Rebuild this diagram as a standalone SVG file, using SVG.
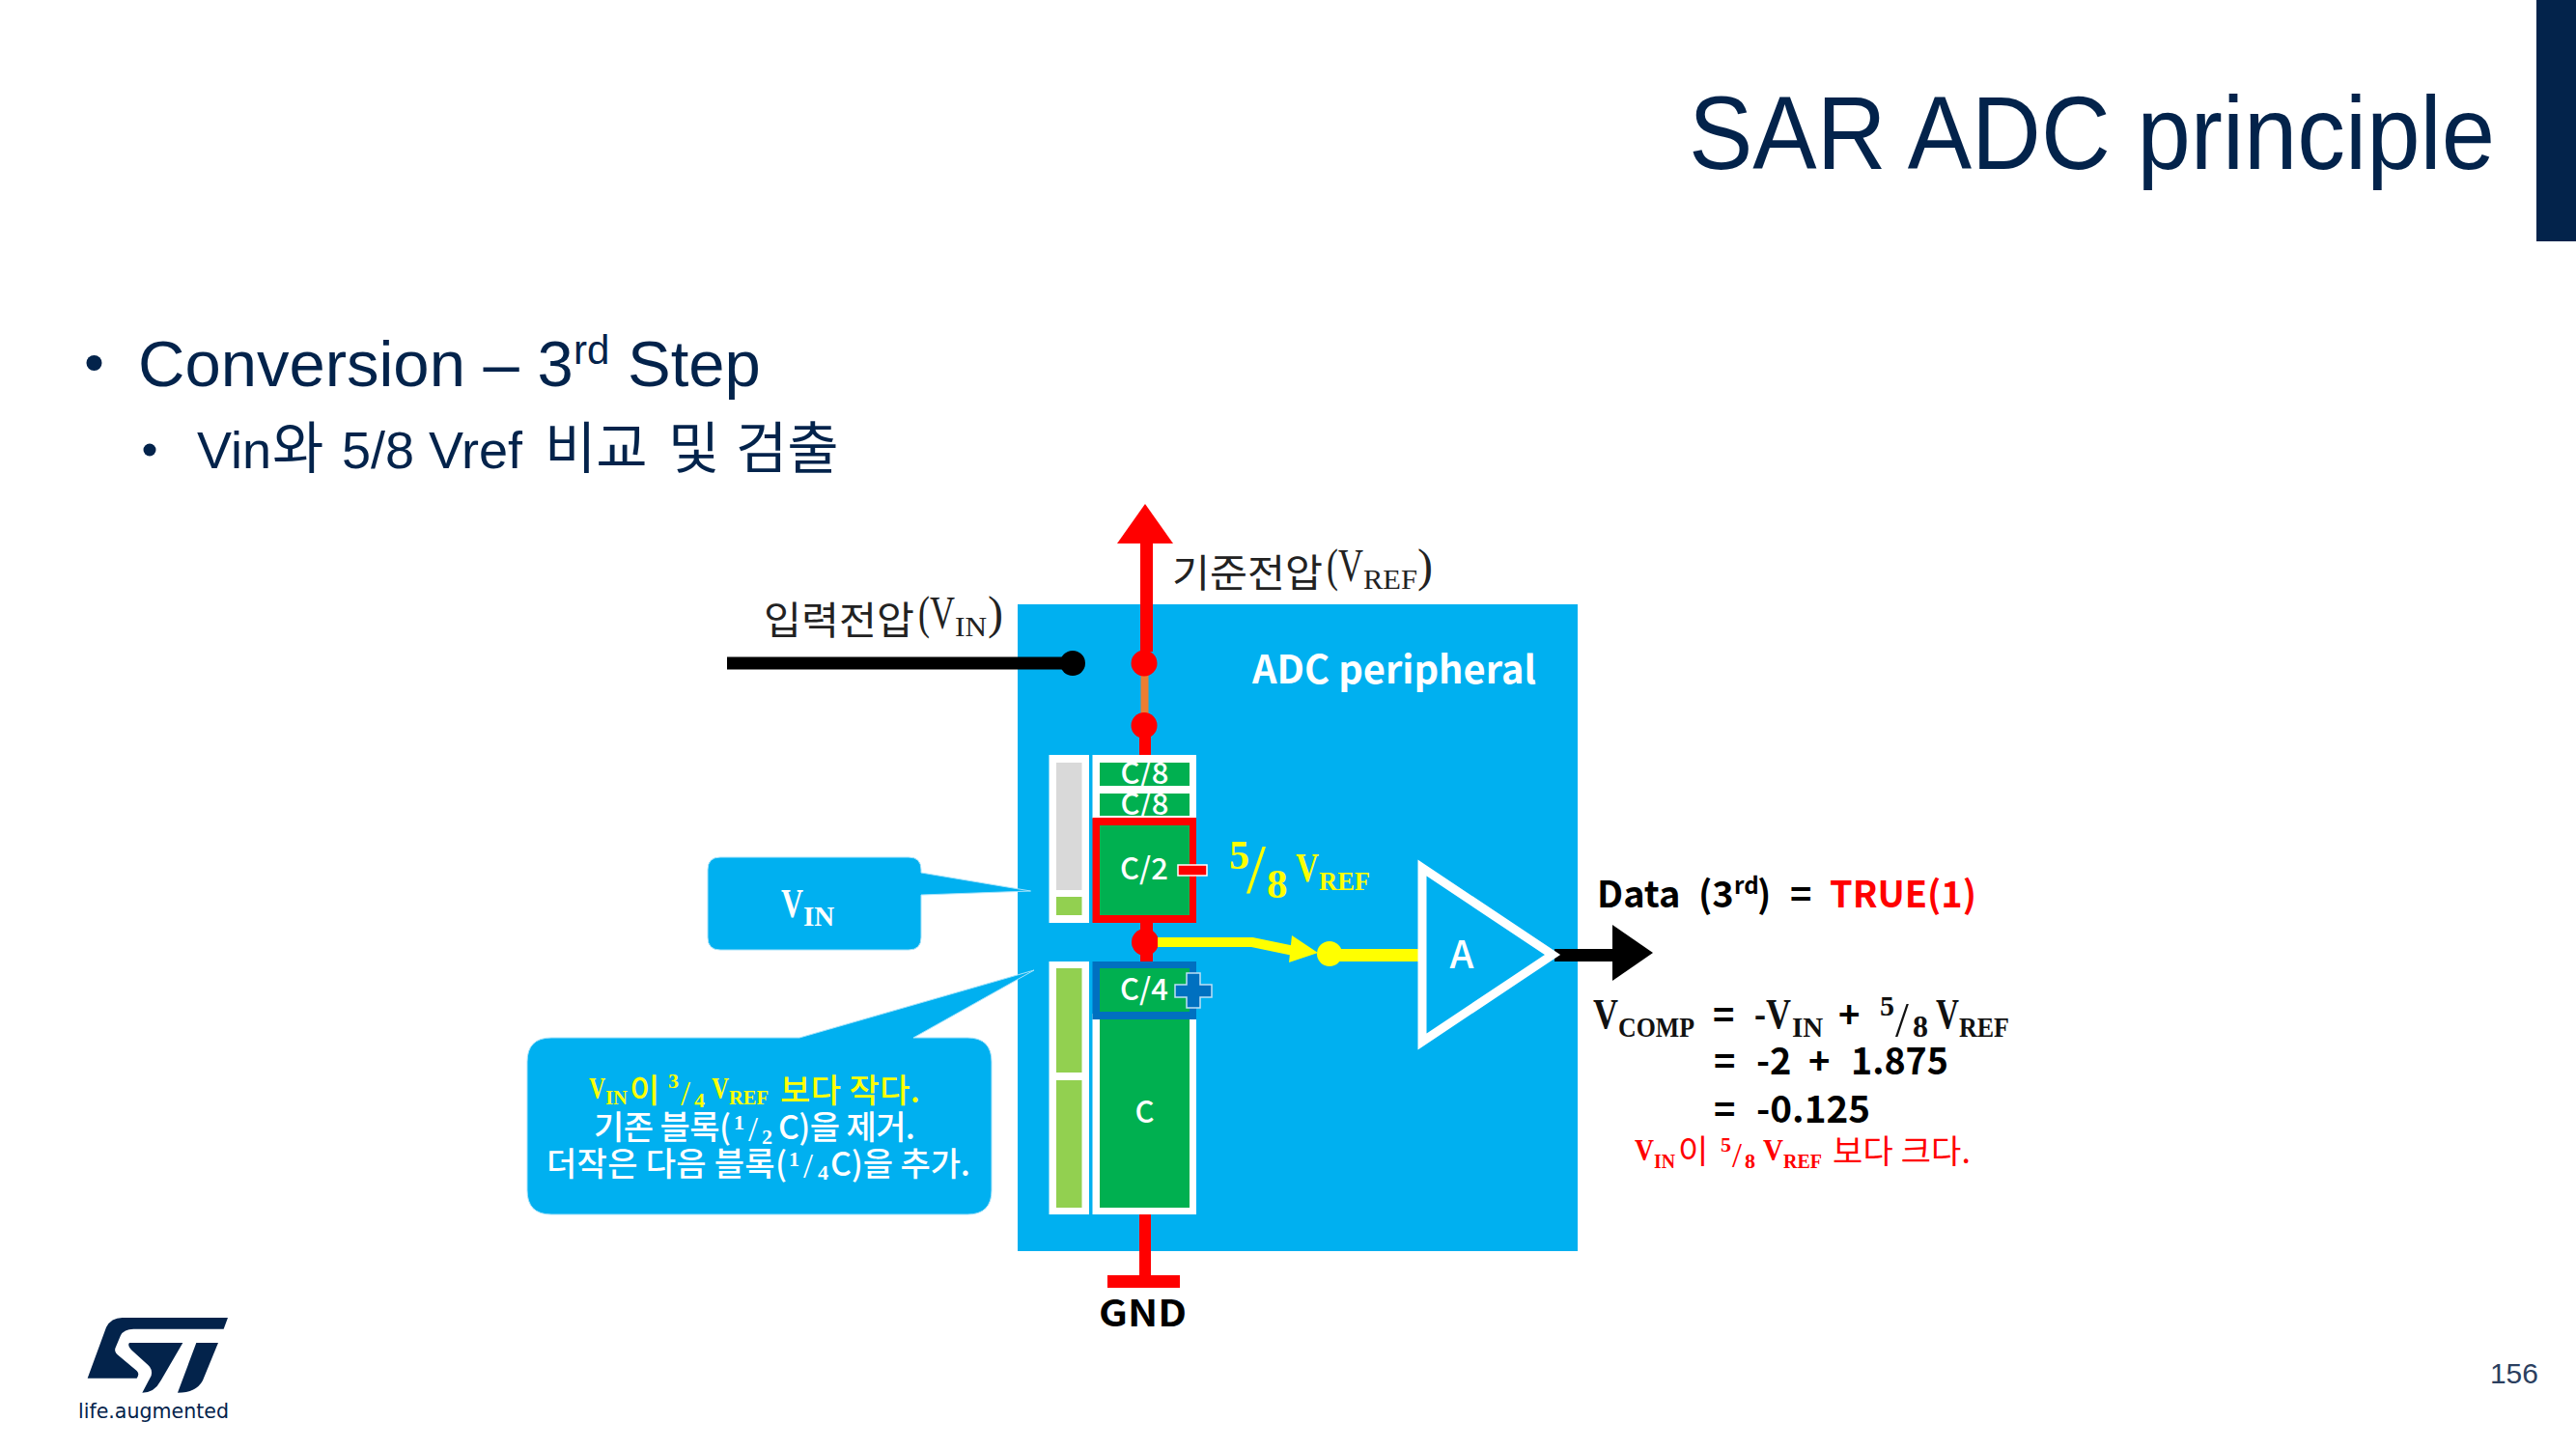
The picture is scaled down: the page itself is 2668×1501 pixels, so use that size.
<svg xmlns="http://www.w3.org/2000/svg" width="2668" height="1501" viewBox="0 0 2668 1501">
<defs><style>
text{font-family:"Liberation Sans","Noto Sans CJK KR",sans-serif;fill:#03234b}
.b{font-family:"Noto Sans CJK KR","Noto Sans",sans-serif;font-weight:700;fill:#000}
.cap{font-family:"Noto Sans CJK KR","Noto Sans",sans-serif;font-weight:500;fill:#fff;font-size:31px;text-anchor:middle}
.s{font-family:"Liberation Serif","Noto Sans CJK KR",serif;font-weight:700}
.t{font-family:"Liberation Serif",serif;font-weight:400;fill:#222}
.h{font-family:"Noto Sans CJK KR",sans-serif;font-weight:400}
.m{font-family:"Noto Sans CJK KR",sans-serif;font-weight:500}
.w{fill:#fff}.y{fill:#ff0}.r{fill:#f00}
.wb{fill:#fff}.dg{fill:#00b050}.lg{fill:#92d050}
.call{fill:#00b0f0;stroke:#a8e3fa;stroke-width:1}
</style></defs>
<rect width="2668" height="1501" fill="#fff"/>
<rect x="2627" y="0" width="41" height="250" fill="#03234b"/>
<text x="1749" y="175" font-size="107" textLength="835" lengthAdjust="spacingAndGlyphs">SAR ADC principle</text>
<g id="bullets">
<circle cx="97.5" cy="376" r="8" fill="#03234b"/>
<text font-size="67"><tspan x="143" y="400">Conversion – 3</tspan><tspan x="594" y="377" font-size="42">rd</tspan><tspan x="650" y="400">Step</tspan></text>
<circle cx="155" cy="466" r="6.5" fill="#03234b"/>
<text font-size="54"><tspan x="204" y="485">Vin</tspan><tspan class="h" x="282" y="485" font-size="58">와</tspan><tspan x="354" y="485">5/8 Vref</tspan><tspan class="h" x="564" y="485" font-size="58">비교</tspan><tspan class="h" x="692" y="485" font-size="58">및</tspan><tspan class="h" x="762" y="485" font-size="58">검출</tspan></text>
</g>
<g id="logo">
<g transform="translate(60 1340) scale(.3333)" fill="#03234b">
<path d="M528 75L515 110H235Q205 110 195 130L178 170Q175 180 185 190L245 240Q255 250 245 263H92L150 105Q165 75 200 75Z"/>
<path d="M222 153H388L320 270Q300 308 262 308L290 255Q295 235 280 222L228 175Q215 160 222 153Z"/>
<path d="M430 153H498L450 270Q430 308 372 308Z"/>
</g>
<text x="81" y="1469" font-size="22" style="font-family:'DejaVu Sans',sans-serif" textLength="156" lengthAdjust="spacingAndGlyphs">life.augmented</text>
</g>
<text id="page" x="2629" y="1433" font-size="30" text-anchor="end" style="fill:#2b3f5f">156</text>

<g id="adc-peripheral">
<rect x="1054" y="626" width="580" height="670" fill="#00b0f0"/>
<text class="cap" x="1444" y="708" style="font-size:40px;font-weight:700" textLength="294" lengthAdjust="spacingAndGlyphs">ADC peripheral</text>
</g>

<g id="connectors">
<rect x="753" y="680.5" width="358" height="13" fill="#000"/>
<circle cx="1111" cy="687" r="13" fill="#000"/>
<rect x="1181" y="560" width="13" height="115" fill="#f00"/>
<polygon points="1186,522 1215,563 1157,563" fill="#f00"/>
<rect x="1181.5" y="698" width="8" height="45" fill="#ed7d31"/>
<rect x="1180" y="750" width="12" height="34" fill="#f00"/>
<circle cx="1185" cy="687" r="13.5" fill="#f00"/>
<circle cx="1185" cy="751.5" r="13.5" fill="#f00"/>
<rect x="1181" y="954" width="13" height="44" fill="#f00"/>
<circle cx="1186" cy="976" r="14" fill="#f00"/>
<path d="M1199 976H1297L1345 986" fill="none" stroke="#ff0" stroke-width="10"/>
<polygon points="1338,969 1365,987 1335,997" fill="#ff0"/>
<circle cx="1377" cy="988" r="13" fill="#ff0"/>
<rect x="1377" y="983" width="92" height="13" fill="#ff0"/>
<rect x="1610" y="983" width="62" height="13" fill="#000"/>
<polygon points="1670,958 1712,987 1670,1016" fill="#000"/>
<rect x="1180" y="1256" width="12" height="66" fill="#f00"/>
<rect x="1147" y="1321" width="75" height="13" fill="#f00"/>
</g>

<g id="left-column-top">
<rect class="wb" x="1086.5" y="782" width="41.5" height="174"/>
<rect x="1094" y="790" width="26.5" height="132" fill="#d9d9d9"/>
<rect class="lg" x="1094" y="929" width="26.5" height="19"/>
</g>
<g id="left-column-bottom">
<rect class="wb" x="1086.5" y="996" width="41.5" height="262"/>
<rect class="lg" x="1094" y="1003" width="26.5" height="108"/>
<rect class="lg" x="1094" y="1119" width="26.5" height="132"/>
</g>
<g id="cap-c8-stack">
<rect class="wb" x="1131.5" y="782" width="107.5" height="66"/>
<rect class="dg" x="1139" y="790" width="93" height="24"/>
<text class="cap" x="1185.5" y="812">C/8</text>
<rect class="dg" x="1139" y="822" width="93" height="23"/>
<text class="cap" x="1185.5" y="844">C/8</text>
</g>
<g id="cap-c2">
<rect x="1131.5" y="847" width="107.5" height="109" fill="#f00"/>
<rect class="dg" x="1139" y="855" width="93" height="93"/>
<text class="cap" x="1185" y="911">C/2</text>
<rect x="1220" y="896" width="30" height="11" fill="#f00" stroke="#fff" stroke-width="1.5"/>
</g>
<g id="cap-c">
<rect class="wb" x="1131.5" y="1050" width="107.5" height="208"/>
<rect class="dg" x="1139" y="1050" width="93" height="201"/>
<text class="cap" x="1185.5" y="1163">C</text>
</g>
<g id="cap-c4">
<rect x="1131.5" y="996" width="107.5" height="60" fill="#0070c0"/>
<rect class="dg" x="1139" y="1003" width="93" height="45"/>
<text class="cap" x="1185" y="1036">C/4</text>
<path d="M1229 1008H1243V1020H1255V1033H1243V1044H1229V1033H1217V1020H1229Z" fill="#0070c0" stroke="#bfe0f5" stroke-width="1.5"/>
</g>
<g id="comparator">
<polygon points="1473,899 1608,989 1473,1079" fill="#00b0f0" stroke="#fff" stroke-width="9"/>
<text class="cap" x="1514" y="1003" style="font-size:40px">A</text>
</g>
<g id="label-5-8-vref">
<text class="s y" font-size="42"><tspan x="1273" y="900">5</tspan><tspan x="1291" y="924" font-size="72" style="font-weight:400">/</tspan><tspan x="1312" y="930" font-size="43">8</tspan><tspan x="1342" y="913" textLength="24" lengthAdjust="spacingAndGlyphs">V</tspan><tspan x="1366" y="921.5" font-size="27" textLength="53" lengthAdjust="spacingAndGlyphs">REF</tspan></text>
</g>
<g id="label-vref">
<text font-size="40"><tspan class="h" style="fill:#222" x="1214" y="608" textLength="156" lengthAdjust="spacingAndGlyphs">기준전압</tspan><tspan class="t" x="1374" y="602" font-size="48" textLength="38" lengthAdjust="spacingAndGlyphs">(V</tspan><tspan class="t" x="1412" y="610" font-size="30" textLength="56" lengthAdjust="spacingAndGlyphs">REF</tspan><tspan class="t" x="1468" y="602" font-size="48">)</tspan></text>
</g>
<g id="label-vin">
<text font-size="40"><tspan class="h" style="fill:#222" x="791" y="657" textLength="156" lengthAdjust="spacingAndGlyphs">입력전압</tspan><tspan class="t" x="951" y="651" font-size="48" textLength="38" lengthAdjust="spacingAndGlyphs">(V</tspan><tspan class="t" x="989" y="659" font-size="30" textLength="33" lengthAdjust="spacingAndGlyphs">IN</tspan><tspan class="t" x="1023" y="651" font-size="48">)</tspan></text>
</g>
<g id="callout-vin">
<path class="call" d="M746 888H941Q954 888 954 901V904L1067.5 923L954 927V971Q954 984 941 984H746Q733 984 733 971V901Q733 888 746 888Z"/>
<text class="s w"><tspan x="809" y="950" font-size="42" textLength="23" lengthAdjust="spacingAndGlyphs">V</tspan><tspan x="832" y="959" font-size="29">IN</tspan></text>
</g>
<g id="callout-comparison">
<path class="call" d="M571 1075H828L1071 1005L946 1075H1002Q1027 1075 1027 1100V1233Q1027 1258 1002 1258H571Q546 1258 546 1233V1100Q546 1075 571 1075Z"/>
<text class="s y" font-size="31"><tspan x="610" y="1138" textLength="17" lengthAdjust="spacingAndGlyphs">V</tspan><tspan x="627" y="1144" font-size="20" textLength="23" lengthAdjust="spacingAndGlyphs">IN</tspan><tspan class="m" x="652" y="1142" font-size="34">이</tspan><tspan x="692" y="1127" font-size="22">3</tspan><tspan x="705" y="1145" font-size="36" style="font-weight:400">/</tspan><tspan x="719" y="1147" font-size="22">4</tspan><tspan x="737" y="1138" textLength="18" lengthAdjust="spacingAndGlyphs">V</tspan><tspan x="755" y="1144" font-size="20" textLength="41" lengthAdjust="spacingAndGlyphs">REF</tspan><tspan class="m" x="808" y="1142" font-size="34" textLength="145">보다 작다.</tspan></text>
<text class="s w" font-size="31"><tspan class="m" x="615" y="1180" font-size="34" textLength="142">기존 블록(</tspan><tspan x="760" y="1170" font-size="22">1</tspan><tspan x="775" y="1182" font-size="36" style="font-weight:400">/</tspan><tspan x="789" y="1185" font-size="22">2</tspan><tspan class="m" x="806" y="1180" font-size="34" textLength="142">C)을 제거.</tspan></text>
<text class="s w" font-size="31"><tspan class="m" x="566" y="1218" font-size="34" textLength="249">더작은 다음 블록(</tspan><tspan x="817" y="1208" font-size="22">1</tspan><tspan x="832" y="1220" font-size="36" style="font-weight:400">/</tspan><tspan x="847" y="1222" font-size="22">4</tspan><tspan class="m" x="860" y="1218" font-size="34" textLength="145">C)을 추가.</tspan></text>
</g>
<text id="label-gnd" class="b" x="1138" y="1374" font-size="38" textLength="91" lengthAdjust="spacingAndGlyphs">GND</text>
<g id="data-output">
<text class="b" font-size="38"><tspan x="1654" y="940">Data</tspan><tspan x="1759" y="940">(3</tspan><tspan x="1796" y="926" font-size="24">rd</tspan><tspan x="1820" y="940">)</tspan><tspan x="1854" y="940">=</tspan><tspan x="1895" y="940" style="fill:#f00" textLength="152" lengthAdjust="spacingAndGlyphs">TRUE(1)</tspan></text>
</g>
<g id="equation">
<text class="s" font-size="44" style="fill:#111"><tspan x="1650" y="1065" textLength="26" lengthAdjust="spacingAndGlyphs">V</tspan><tspan x="1676" y="1074" font-size="29" textLength="79" lengthAdjust="spacingAndGlyphs">COMP</tspan><tspan x="1817" y="1065" textLength="38" lengthAdjust="spacingAndGlyphs">-V</tspan><tspan x="1856" y="1074" font-size="29">IN</tspan><tspan x="1947" y="1052" font-size="30">5</tspan><tspan x="1963" y="1073" font-size="50" style="font-weight:400">/</tspan><tspan x="1981" y="1074" font-size="32">8</tspan><tspan x="2005" y="1065" textLength="24" lengthAdjust="spacingAndGlyphs">V</tspan><tspan x="2029" y="1074" font-size="29" textLength="52" lengthAdjust="spacingAndGlyphs">REF</tspan></text>
<text class="b" font-size="38"><tspan x="1774" y="1065">=</tspan><tspan x="1904" y="1065">+</tspan><tspan x="1775" y="1113">=</tspan><tspan x="1819" y="1113">-2</tspan><tspan x="1873" y="1113">+</tspan><tspan x="1917" y="1113" textLength="101" lengthAdjust="spacingAndGlyphs">1.875</tspan><tspan x="1775" y="1163">=</tspan><tspan x="1819" y="1163" textLength="118" lengthAdjust="spacingAndGlyphs">-0.125</tspan></text>
<text class="s r" font-size="32"><tspan x="1693" y="1202" textLength="20" lengthAdjust="spacingAndGlyphs">V</tspan><tspan x="1713" y="1210" font-size="22" textLength="22" lengthAdjust="spacingAndGlyphs">IN</tspan><tspan class="h" x="1738" y="1205" font-size="34">이</tspan><tspan x="1782" y="1193" font-size="22">5</tspan><tspan x="1794" y="1209" font-size="36" style="font-weight:400">/</tspan><tspan x="1807" y="1210" font-size="22">8</tspan><tspan x="1826" y="1202" textLength="21" lengthAdjust="spacingAndGlyphs">V</tspan><tspan x="1847" y="1210" font-size="22" textLength="40" lengthAdjust="spacingAndGlyphs">REF</tspan><tspan class="h" x="1898" y="1205" font-size="34" textLength="143">보다 크다.</tspan></text>
</g>
</svg>
